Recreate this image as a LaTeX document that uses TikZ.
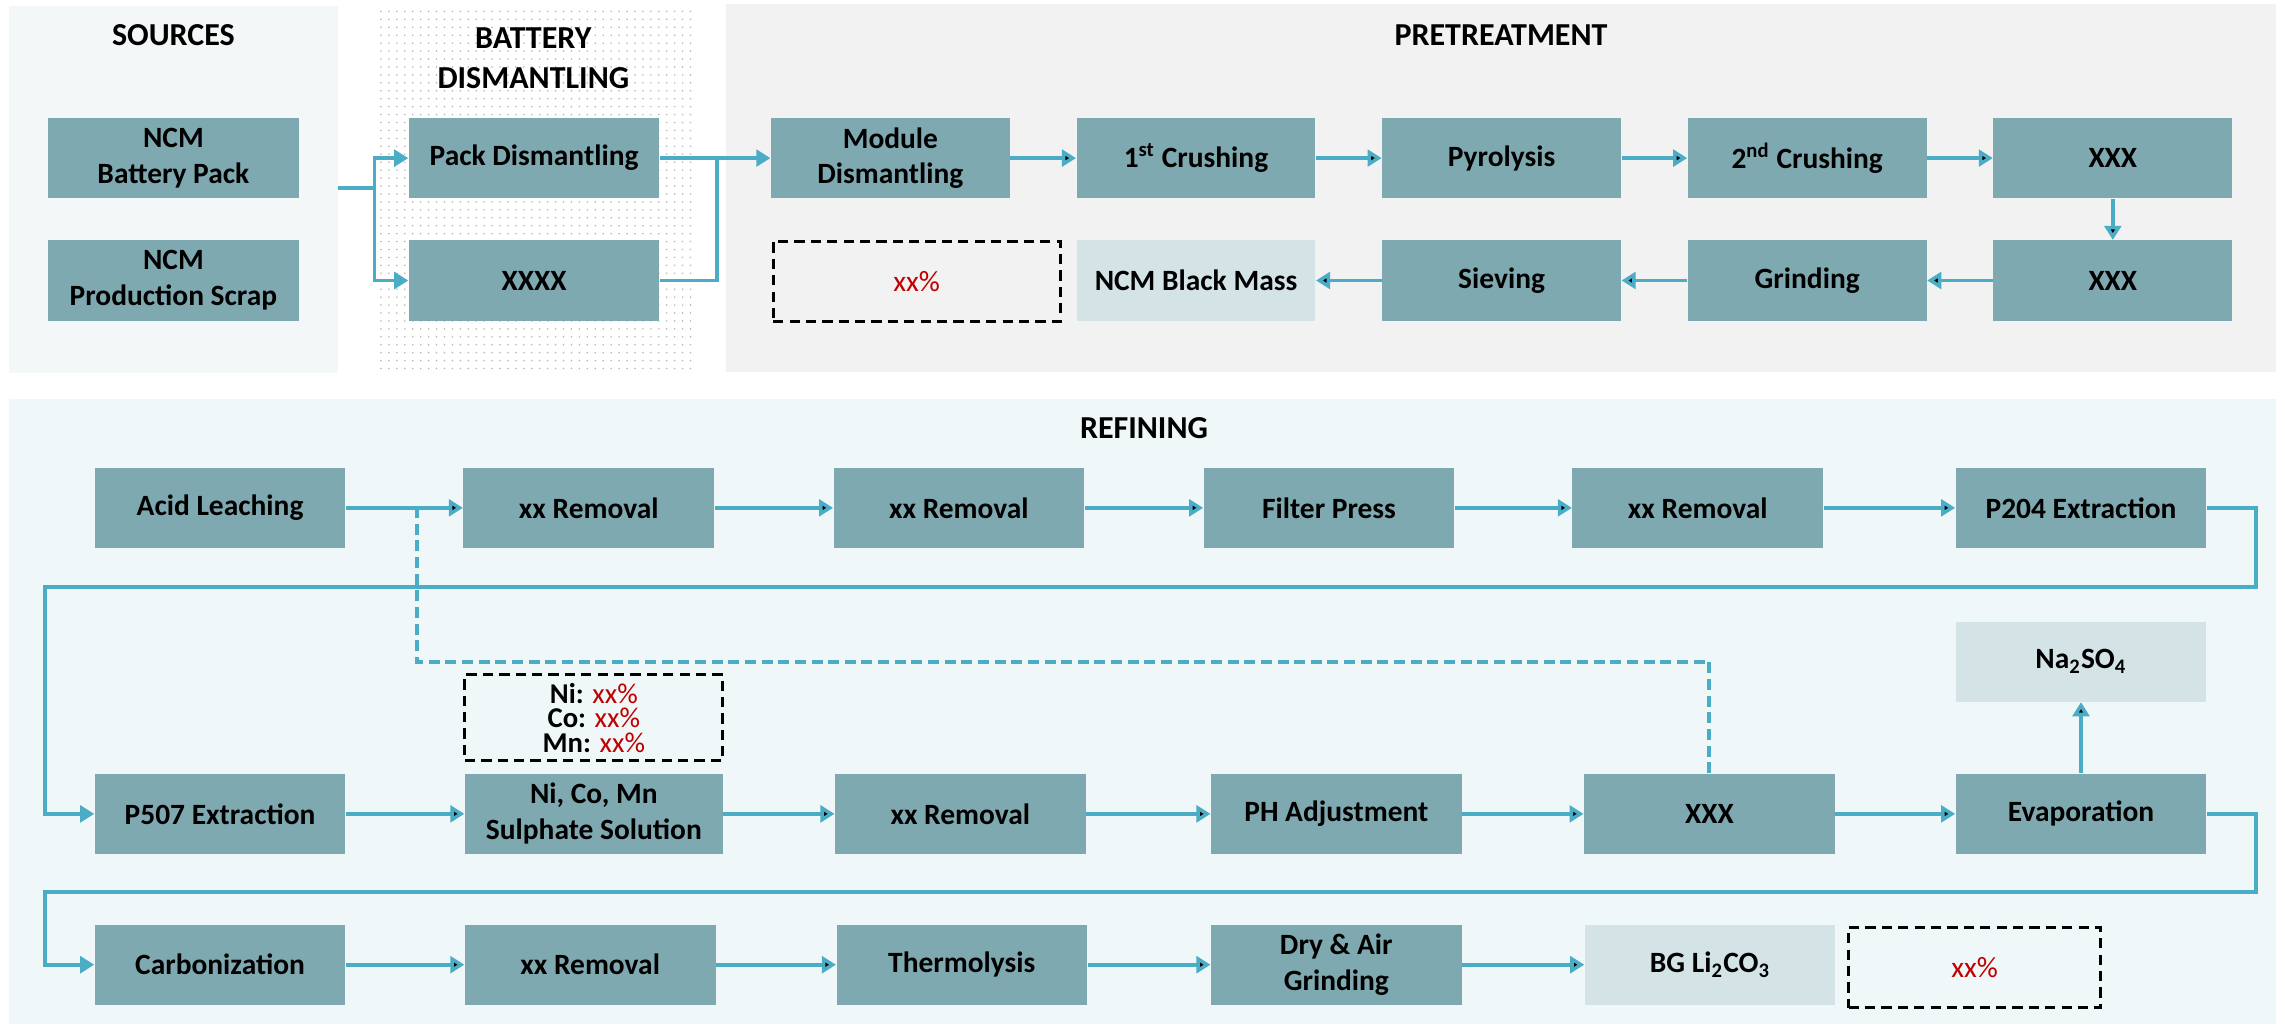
\documentclass[tikz,border=0pt]{standalone}
\usepackage{fontspec}
\setmainfont{Carlito}
\usepackage{xcolor}
\usetikzlibrary{arrows.meta, positioning, patterns.meta}

\definecolor{boxteal}{HTML}{7FA9B1}
\definecolor{outfill}{HTML}{D3E3E6}
\definecolor{flowblue}{HTML}{4BACC6}
\definecolor{srcbg}{HTML}{F3F7F8}
\definecolor{prebg}{HTML}{F2F2F2}
\definecolor{refbg}{HTML}{EFF7F9}
\definecolor{pctred}{HTML}{C00000}

\begin{document}
\begin{tikzpicture} [x = 0.02cm, y = -0.02cm, node distance = 4.195cm, on grid,
	font = \fontsize{11.5}{14}\selectfont\bfseries,
	stepbox/.style = {fill = boxteal, minimum width = 3.44cm, minimum height = 1.1cm, align = center, inner sep = 1pt},
	prebox/.style = {stepbox, minimum width = 3.28cm},
	outbox/.style = {stepbox, fill = outfill},
	notebox/.style = {draw = black, line width = 1.1pt, dash pattern = on 4pt off 2.4pt, minimum height = 1.1cm,
	align = center, inner sep = 1pt},
	pct/.style = {text = pctred, font = \fontsize{11.5}{14}\selectfont\mdseries},
	title/.style = {font = \fontsize{12.5}{15.4}\selectfont\bfseries, align = center},
	link/.style = {draw = flowblue, line width = 1.5pt},
	flow/.style = {link, -{Triangle[length = 5.5pt, width = 6.5pt]}},
	recycle/.style = {link, dash pattern = on 4.3pt off 2.2pt}]
	% Page and panels
	\useasboundingbox (0,0) rectangle (1568,705);
	\fill [white] (0,0) rectangle (1568,705);
	\fill [srcbg] (6,4) rectangle (232,256);
	\fill [pattern = {Dots[distance = 3.1pt, radius = 0.35pt]}, pattern color = black!28] (258,6) rectangle (475,254);
	\fill [prebg] (498,3) rectangle (1562,255);
	\fill [refbg] (6,274) rectangle (1562,703);

	% Panel titles
	\node (tsrc) [title] at (119,24) {SOURCES};
	\node (tbat) [title] at (366,40) {BATTERY\\DISMANTLING};
	\node (tpre) [title] at (1030,24) {PRETREATMENT};
	\node (tref) [title] at (785,294) {REFINING};

	% Sources and dismantling
	\node (ncmpack) [stepbox] at (119,108.5) {NCM\\Battery Pack};
	\node (ncmscrap) [stepbox] at (119,192.5) {NCM\\Production Scrap};
	\node (packdis) [stepbox] at (366.5,108.5) {Pack Dismantling};
	\node (xxxx) [stepbox] at (366.5,192.5) {XXXX};

	% Pretreatment : top row left to right, bottom row right to left
	\node (moddis) [prebox] at (611,108.5) {Module\\Dismantling};
	\node (crush1) [prebox, right = of moddis] {1\textsuperscript{st} Crushing};
	\node (pyro) [prebox, right = of crush1] {Pyrolysis};
	\node (crush2) [prebox, right = of pyro] {2\textsuperscript{nd} Crushing};
	\node (xxxa) [prebox, right = of crush2] {XXX};
	\node (xxxb) [prebox, below = 1.68cm of xxxa] {XXX};
	\node (grind) [prebox, left = of xxxb] {Grinding};
	\node (sieve) [prebox, left = of grind] {Sieving};
	\node (blackmass) [prebox, fill = outfill, left = of sieve] {NCM Black Mass};
	\node (prepct) [notebox, minimum width = 3.94cm] at (629,193) {\textcolor{pctred}{\mdseries xx\%}};

	% Refining rows
	\node (acid) [stepbox] at (151,348.5) {Acid Leaching};
	\node (rem1) [stepbox] at (404,348.5) {xx Removal};
	\node (rem2) [stepbox] at (658,348.5) {xx Removal};
	\node (filt) [stepbox] at (912,348.5) {Filter Press};
	\node (rem3) [stepbox] at (1165,348.5) {xx Removal};
	\node (p204) [stepbox] at (1428,348.5) {P204 Extraction};

	\node (p507) [stepbox] at (151,558.5) {P507 Extraction};
	\node (sulph) [stepbox, minimum width = 3.54cm] at (407.5,558.5) {Ni, Co, Mn\\Sulphate Solution};
	\node (rem4) [stepbox] at (659,558.5) {xx Removal};
	\node (phadj) [stepbox] at (917,558.5) {PH Adjustment};
	\node (xxxc) [stepbox] at (1173,558.5) {XXX};
	\node (evap) [stepbox] at (1428,558.5) {Evaporation};
	\node (na2so4) [outbox] at (1428,454) {Na\textsubscript{2}SO\textsubscript{4}};
	\node (metpct) [notebox, minimum width = 3.54cm, minimum height = 1.18cm, font = \fontsize{11.2}{9.6}\selectfont\bfseries]
	at (407.5,492.5) {Ni: \textcolor{pctred}{\mdseries xx\%}\\Co: \textcolor{pctred}{\mdseries xx\%}\\Mn: \textcolor{pctred}{\mdseries xx\%}};

	\node (carb) [stepbox] at (151,662) {Carbonization};
	\node (rem5) [stepbox] at (405,662) {xx Removal};
	\node (thermo) [stepbox] at (660,662) {Thermolysis};
	\node (dryair) [stepbox] at (917,662) {Dry \& Air\\Grinding};
	\node (bgli) [outbox] at (1173.5,662) {BG Li\textsubscript{2}CO\textsubscript{3}};
	\node (lipct) [notebox, minimum width = 3.46cm] at (1355,664) {\textcolor{pctred}{\mdseries xx\%}};

	% Corner points of the routed lines
	\coordinate (srcout) at (232,129);
	\coordinate (split) at (257,129);
	\coordinate (merge) at (492,108.5);
	\coordinate (wrap1r) at (1548,403);
	\coordinate (wrap1l) at (31,403);
	\coordinate (wrap2r) at (1548,612);
	\coordinate (wrap2l) at (31,612);
	\coordinate (tapin) at (286,348.5);
	\coordinate (recyc) at (286,454);

	% Draw Arrows/Connections
	\draw [link] (srcout) -- (split);
	\draw [flow] (split) |- (packdis.west);
	\draw [flow] (split) |- (xxxx.west);
	\draw [flow] (packdis) -- (moddis);
	\draw [link] (xxxx.east) -| (merge);
	\path [flow]
	(moddis) edge (crush1)
	(crush1) edge (pyro)
	(pyro) edge (crush2)
	(crush2) edge (xxxa)
	(xxxa) edge (xxxb)
	(xxxb) edge (grind)
	(grind) edge (sieve)
	(sieve) edge (blackmass);

	\path [flow]
	(acid) edge (rem1)
	(rem1) edge (rem2)
	(rem2) edge (filt)
	(filt) edge (rem3)
	(rem3) edge (p204)
	(p507) edge (sulph)
	(sulph) edge (rem4)
	(rem4) edge (phadj)
	(phadj) edge (xxxc)
	(xxxc) edge (evap)
	(evap) edge (na2so4)
	(carb) edge (rem5)
	(rem5) edge (thermo)
	(thermo) edge (dryair)
	(dryair) edge (bgli);
	\draw [flow] (p204.east) -| (wrap1r) -- (wrap1l) |- (p507.west);
	\draw [flow] (evap.east) -| (wrap2r) -- (wrap2l) |- (carb.west);
	\draw [recycle] (xxxc.north) |- (recyc) -- (tapin);
\end{tikzpicture}
\end{document}
